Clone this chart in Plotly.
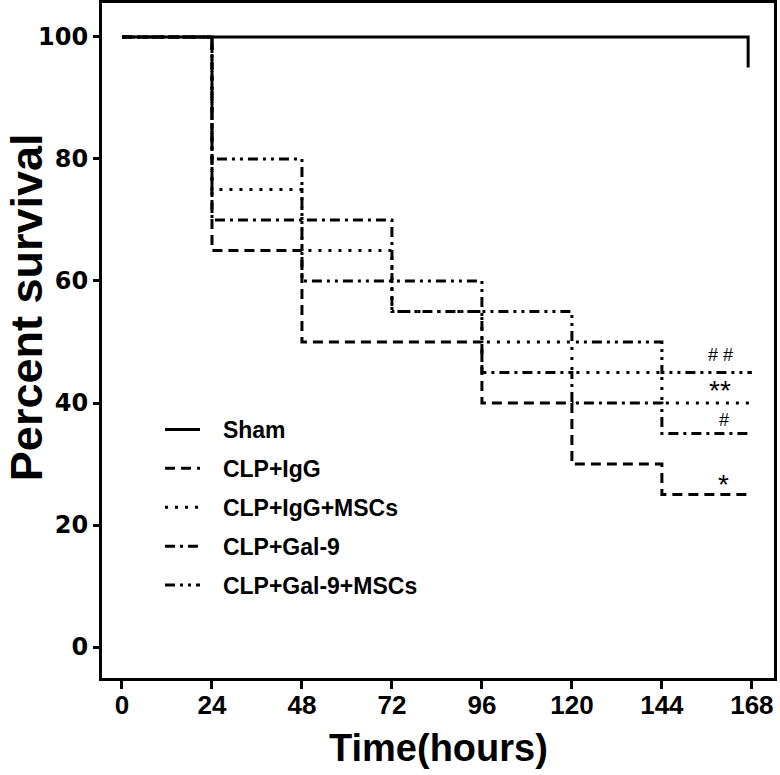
import plotly.graph_objects as go

# ---- data ----
groups = ["Sham", "CLP+IgG", "CLP+IgG+MSCs", "CLP+Gal-9", "CLP+Gal-9+MSCs"]
sham_t = [0, 167]
sham_s = [100, 95]
igg_t = [0, 24, 48, 96, 120, 144, 168]
igg_s = [100, 65, 50, 40, 30, 25, 25]
iggmsc_t = [0, 24, 48, 72, 96, 120, 144, 168]
iggmsc_s = [100, 75, 65, 55, 50, 45, 40, 40]
gal_t = [0, 24, 72, 96, 120, 144, 168]
gal_s = [100, 70, 55, 45, 40, 35, 35]
galmsc_t = [0, 24, 48, 96, 120, 144, 168]
galmsc_s = [100, 80, 60, 55, 50, 45, 45]
x_ticks = [0, 24, 48, 72, 96, 120, 144, 168]
y_ticks = [0, 20, 40, 60, 80, 100]
marks = ["# #", "**", "#", "*"]
mark_y = [47.8, 42.0, 37.2, 26.6]
mark_x = [159.5, 159.5, 160.5, 160.5]

series = [
    (sham_t, sham_s, "solid"),
    (igg_t, igg_s, "10px,6px"),
    (iggmsc_t, iggmsc_s, "3px,7px"),
    (gal_t, gal_s, "10px,5px,3px,5px"),
    (galmsc_t, galmsc_s, "10px,5px,3px,5px,3px,5px"),
]

fig = go.Figure()
for name, (t, s, dash) in zip(groups, series):
    fig.add_trace(go.Scatter(
        x=t, y=s, mode="lines", name="\u2002\u00a0<b>%s</b>" % name,
        line=dict(color="black", width=3, dash=dash, shape="hv"),
        legendgroup=name,
    ))

for txt, xx, yy in zip(marks, mark_x, mark_y):
    big = "*" in txt
    fig.add_annotation(x=xx, y=yy, text=txt, showarrow=False,
                       font=dict(size=28 if big else 18, color="black",
                                 family="Liberation Sans"),
                       xanchor="center", yanchor="middle")

# axis titles
fig.add_annotation(xref="paper", yref="paper", x=0.5, y=-0.104,
                   text="<b>Time(hours)</b>", showarrow=False,
                   xanchor="center", yanchor="middle",
                   font=dict(family="Liberation Sans", size=38, color="black"))
fig.add_annotation(xref="paper", yref="paper", x=-0.112, y=0.549,
                   text="<b>Percent survival</b>", showarrow=False, textangle=-90,
                   xanchor="center", yanchor="middle",
                   font=dict(family="Liberation Sans", size=45, color="black"))

fig.update_layout(
    width=780, height=775,
    margin=dict(l=102, r=6, t=3, b=97),
    plot_bgcolor="white", paper_bgcolor="white",
    showlegend=True,
    legend=dict(x=0.0863, y=0.40, xanchor="left", yanchor="top",
                bgcolor="rgba(0,0,0,0)", traceorder="grouped",
                tracegroupgap=6, itemwidth=35,
                font=dict(family="Liberation Sans", size=23, color="black")),
    xaxis=dict(range=[-5.33, 173.9], tickvals=x_ticks, automargin=False,
               ticktext=["<b>%d</b>" % v for v in x_ticks],
               showgrid=False, zeroline=False, showline=True, mirror=True,
               linecolor="black", linewidth=3, ticks="outside", ticklen=8,
               tickwidth=3, tickcolor="black", ticklabelstandoff=-6,
               tickfont=dict(family="Liberation Sans", size=26, color="black")),
    yaxis=dict(range=[-5.07, 105.56], tickvals=y_ticks, automargin=False,
               ticktext=["<b>%d</b>" % v for v in y_ticks],
               showgrid=False, zeroline=False, showline=True, mirror=True,
               linecolor="black", linewidth=3, ticks="outside", ticklen=6,
               tickwidth=3, tickcolor="black",
               tickfont=dict(family="DejaVu Sans", size=24, color="black")),
)

fig.write_html("out.html", config={"displayModeBar": False},
               post_script="document.body.style.margin='0';document.body.style.padding='0';")
